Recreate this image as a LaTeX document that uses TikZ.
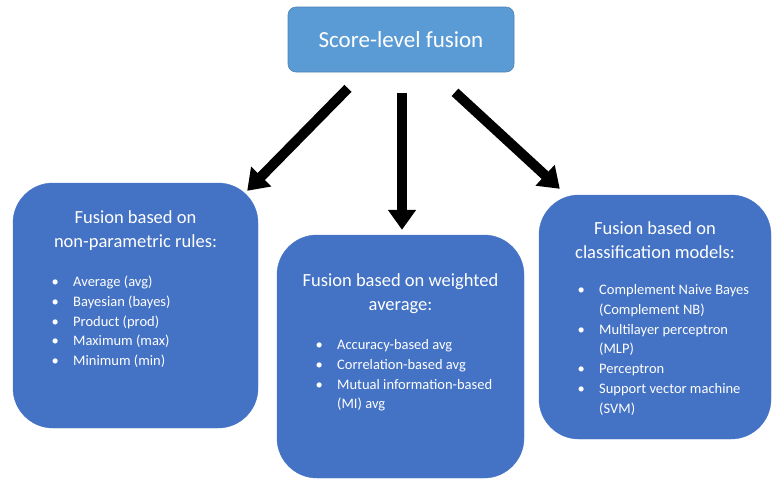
\documentclass[tikz,border=0pt]{standalone}
\usepackage{fontspec}
\setmainfont{Carlito}
\usetikzlibrary{arrows.meta}
\definecolor{topblue}{HTML}{5B9BD5}
\definecolor{boxblue}{HTML}{4472C4}
\newcommand{\bl}{\makebox[36pt][c]{\textbullet}}
\newcommand{\ind}{\hspace*{36pt}}
\begin{document}
\begin{tikzpicture}[x=1pt,y=-1pt,
  topbox/.style={draw=topblue!85!black, line width=0.6pt, fill=topblue, rounded corners=8pt,
    minimum width=226pt, minimum height=65pt, inner sep=0pt, text=white,
    font=\fontsize{23}{28}\selectfont},
  catbox/.style={draw=boxblue, fill=boxblue, rounded corners=40pt, inner sep=0pt},
  titletext/.style={inner sep=0pt, text=white, font=\fontsize{18.5}{24.5}\selectfont, anchor=base},
  listtext/.style={inner sep=0pt, text=white, font=\fontsize{14.5}{19.8}\selectfont, anchor=base west},
  arr/.style={draw=black, line width=10pt, -{Triangle[width=27pt,length=20pt]}}
]
\useasboundingbox (0,0) rectangle (772,480);

\node[topbox] (top) at (401,39.5) {Score-level fusion};

\node[catbox, minimum width=245pt, minimum height=245pt] (left) at (135.5,305.5) {};
\node[catbox, minimum width=247pt, minimum height=243pt] (mid) at (400.5,356.5) {};
\node[catbox, minimum width=232pt, minimum height=244pt] (right) at (655,317) {};

\node[titletext] (lefttitle) at (135.5,223) {\begin{tabular}[t]{@{}c@{}}Fusion based on\\non-parametric rules:\end{tabular}};
\node[titletext] (midtitle) at (400.5,286) {\begin{tabular}[t]{@{}c@{}}Fusion based on weighted\\average:\end{tabular}};
\node[titletext] (righttitle) at (655,234) {\begin{tabular}[t]{@{}c@{}}Fusion based on\\classification models:\end{tabular}};

\node[listtext] (leftlist) at (37,286.5) {\begin{tabular}[t]{@{}l@{}}
\bl Average (avg)\\
\bl Bayesian (bayes)\\
\bl Product (prod)\\
\bl Maximum (max)\\
\bl Minimum (min)
\end{tabular}};

\node[listtext] (midlist) at (301,349.5) {\begin{tabular}[t]{@{}l@{}}
\bl Accuracy-based avg\\
\bl Correlation-based avg\\
\bl Mutual information-based\\
\ind (MI) avg
\end{tabular}};

\node[listtext] (rightlist) at (563,294.5) {\begin{tabular}[t]{@{}l@{}}
\bl Complement Naive Bayes\\
\ind (Complement NB)\\
\bl Multilayer perceptron\\
\ind (MLP)\\
\bl Perceptron\\
\bl Support vector machine\\
\ind (SVM)
\end{tabular}};

\draw[arr] ([xshift=-53pt,yshift=-16pt]top.south) -- ([xshift=-11pt,yshift=-8pt]left.north east);
\draw[arr] ([xshift=1pt,yshift=-21pt]top.south) -- ([xshift=1.5pt,yshift=5pt]mid.north);
\draw[arr] ([xshift=54pt,yshift=-20pt]top.south) -- ([xshift=21pt,yshift=6pt]right.north west);
\end{tikzpicture}
\end{document}
